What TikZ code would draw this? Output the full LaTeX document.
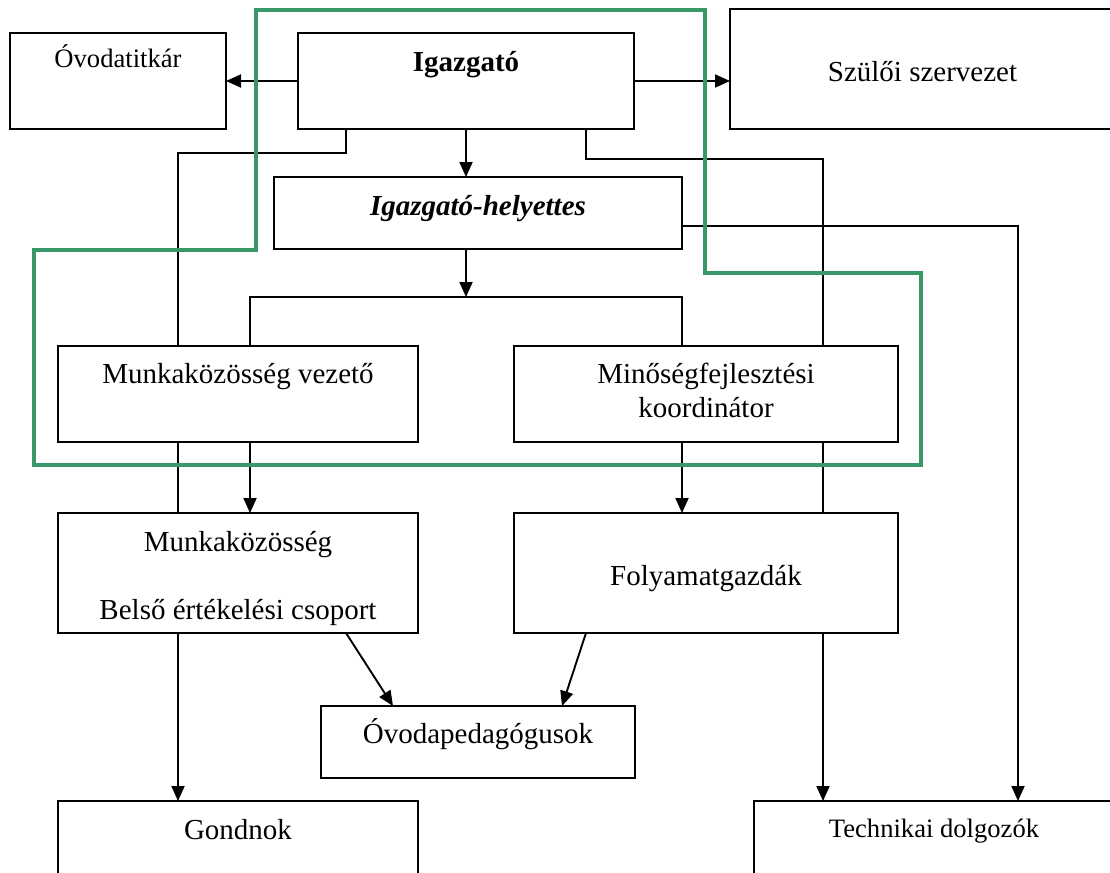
\documentclass[tikz,border=0pt]{standalone}
\usepackage{fontspec}
\setmainfont{Liberation Serif}
\usetikzlibrary{arrows.meta}
\definecolor{zonegreen}{RGB}{56,152,104}
\tikzset{
    x=1pt, y=-1pt, % one unit per pixel, y runs downwards
    box/.style={draw, line width=1.4pt, inner sep=0pt, outer sep=0pt}, % the frames
    txt/.style={anchor=base, inner sep=0pt, align=center, font=\fontsize{29}{34}\selectfont},
    smalltxt/.style={txt, font=\fontsize{26.6}{32}\selectfont},
    link/.style={line width=1.3pt}, % plain lines
    arr/.style={line width=1.9pt, -{Triangle[length=15pt, width=13pt]}}, % lines with a head
    zone/.style={line width=4pt, draw=zonegreen, line join=miter},
}

\begin{document}
\begin{tikzpicture}
    \clip (0,0) rectangle (1110,872);
    % frames
    \node[box, minimum width=216pt, minimum height=96pt] (titkar) at (118,81) {};
    \node[box, minimum width=336pt, minimum height=96pt] (igazgato) at (466,81) {};
    \node[box, minimum width=385pt, minimum height=120pt] (szulo) at (922.5,69) {};
    \node[box, minimum width=408pt, minimum height=72pt] (helyettes) at (478,213) {};
    \node[box, minimum width=360pt, minimum height=96pt] (mkvez) at (238,394) {};
    \node[box, minimum width=384pt, minimum height=96pt] (minoseg) at (706,394) {};
    \node[box, minimum width=360pt, minimum height=120pt] (mkoz) at (238,573) {};
    \node[box, minimum width=384pt, minimum height=120pt] (folyamat) at (706,573) {};
    \node[box, minimum width=314pt, minimum height=72pt] (ovoped) at (478,742) {};
    \node[box, minimum width=360pt, minimum height=96pt] (gondnok) at (238,849) {};
    \node[box, minimum width=360pt, minimum height=96pt] (technikai) at (934,849) {};
    % texts (base = last line)
    \node[smalltxt] (titkar-t) at (titkar.center |- 0,68) {Óvodatitkár};
    \node[txt] (igazgato-t) at (igazgato.center |- 0,72) {\bfseries Igazgató};
    \node[txt] (szulo-t) at (szulo.center |- 0,82) {Szülői szervezet};
    \node[txt] (helyettes-t) at (helyettes.center |- 0,215) {\bfseries\itshape Igazgató-helyettes};
    \node[txt] (mkvez-t) at (mkvez.center |- 0,383) {Munkaközösség vezető};
    \node[txt] (minoseg-t) at (minoseg.center |- 0,417) {Minőségfejlesztési\\koordinátor};
    \node[txt] (mkoz-t) at (mkoz.center |- 0,619) {Munkaközösség\\[33.5pt]Belső értékelési csoport};
    \node[txt] (folyamat-t) at (folyamat.center |- 0,585) {Folyamatgazdák};
    \node[txt] (ovoped-t) at (ovoped.center |- 0,743) {Óvodapedagógusok};
    \node[txt] (gondnok-t) at (gondnok.center |- 0,839) {Gondnok};
    \node[smalltxt] (technikai-t) at (technikai.center |- 0,837) {Technikai dolgozók};
    % columns of the long lines
    \coordinate (xl) at (178,0);
    \coordinate (xa) at (250,0);
    \coordinate (xb) at (682,0);
    \coordinate (xr) at (823,0);
    \coordinate (xf) at (1018,0);
    \coordinate (bar) at (466,297);
    % lines
    \draw[arr] (igazgato.west) -- (titkar.east);
    \draw[arr] (igazgato.east) -- (igazgato.east -| szulo.west);
    \draw[arr] (igazgato.south) -- (igazgato.south |- helyettes.north);
    \draw[arr] (igazgato.south |- helyettes.south) -- (bar);
    \draw[link] (xa |- mkvez.north) |- (bar) -| (xb |- minoseg.north);
    \draw[link] (igazgato.south -| 346,0) -- ++(0,24) -| (xl |- mkvez.north);
    \draw[link] (xl |- mkvez.south) -- (xl |- mkoz.north);
    \draw[arr] (xl |- mkoz.south) -- (xl |- gondnok.north);
    \draw[link] (igazgato.south -| 586,0) -- ++(0,30) -| (xr |- minoseg.north);
    \draw[link] (xr |- minoseg.south) -- (xr |- folyamat.north);
    \draw[arr] (xr |- folyamat.south) -- (xr |- technikai.north);
    \draw[arr] (helyettes.east |- 0,226) -| (xf |- technikai.north);
    \draw[arr] (xa |- mkvez.south) -- (xa |- mkoz.north);
    \draw[arr] (xb |- minoseg.south) -- (xb |- folyamat.north);
    \draw[arr] (mkoz.south -| 346,0) -- (ovoped.north -| 393,0);
    \draw[arr] (folyamat.south -| 586,0) -- (ovoped.north -| 562,0);
    % green frame
    \draw[zone] (256,10) -| (705,273) -| (921,465) -| (34,250) -| (256,10) -- cycle;
\end{tikzpicture}
\end{document}
